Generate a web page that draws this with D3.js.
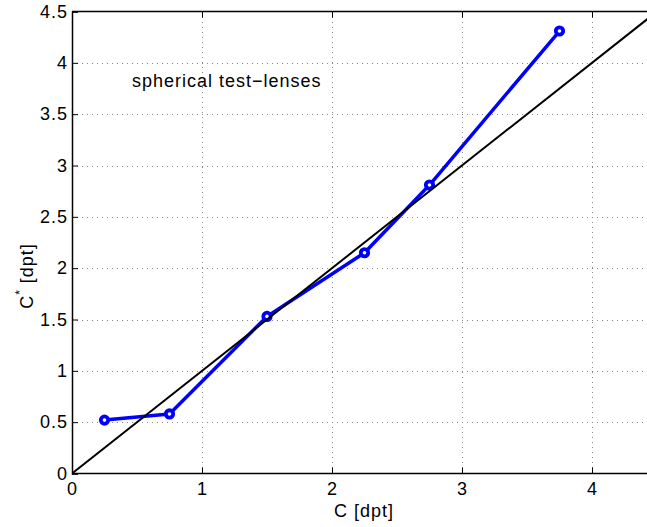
<!DOCTYPE html>
<html>
<head>
<meta charset="utf-8">
<script src="https://cdn.jsdelivr.net/npm/d3@7"></script>
<style>
  html, body { margin: 0; padding: 0; background: #fff; }
  svg { display: block; }
  text { font-family: "Liberation Sans", Arial, Helvetica, sans-serif; fill: #000; }
</style>
</head>
<body>
<script>
// Measured vs. nominal power of spherical test lenses
const lensPower = [0.25, 0.75, 1.5, 2.25, 2.75, 3.75];      // C [dpt]
const measuredPower = [0.52, 0.58, 1.53, 2.15, 2.81, 4.31]; // C* [dpt]
const xTicks = [0, 1, 2, 3, 4];
const yTicks = [0, 0.5, 1, 1.5, 2, 2.5, 3, 3.5, 4, 4.5];
const identityLine = [0, 4.5];

const W = 647, H = 527;
const svg = d3.select("body").append("svg").attr("width", W).attr("height", H);

const x = d3.scaleLinear().domain([0, 4.5]).range([72, 657]);
const y = d3.scaleLinear().domain([0, 4.5]).range([473.5, 11.5]);

svg.append("defs").append("clipPath").attr("id", "plotclip")
  .append("rect").attr("x", 72).attr("y", 11.5).attr("width", 585).attr("height", 462);

// dotted grid
const grid = svg.append("g").attr("stroke", "#888").attr("stroke-width", 1)
  .attr("stroke-dasharray", "1,4").attr("shape-rendering", "crispEdges");
grid.selectAll(".gx").data(xTicks.filter(d => d > 0)).join("line")
  .attr("x1", d => Math.round(x(d)) + 0.5).attr("x2", d => Math.round(x(d)) + 0.5)
  .attr("y1", y(4.5)).attr("y2", y(0));
grid.selectAll(".gy").data(yTicks.filter(d => d > 0 && d < 4.5)).join("line")
  .attr("y1", d => Math.round(y(d)) + 0.5).attr("y2", d => Math.round(y(d)) + 0.5)
  .attr("x1", x(0)).attr("x2", W);

// axes
const xAxis = d3.axisBottom(x).tickValues(xTicks).tickSize(-6).tickPadding(9).tickFormat(d3.format("~g"));
const yAxis = d3.axisLeft(y).tickValues(yTicks).tickSize(-6).tickPadding(5).tickFormat(d3.format("~g"));
const xTop = d3.axisTop(x).tickValues(xTicks).tickSize(-6).tickFormat("");

const gx = svg.append("g").attr("transform", `translate(0,${y(0)})`).call(xAxis);
const gy = svg.append("g").attr("transform", `translate(${x(0)},0)`).call(yAxis);
const gt = svg.append("g").attr("transform", `translate(0,${y(4.5)})`).call(xTop);
[gx, gy, gt].forEach(g => {
  g.select(".domain").attr("stroke", "#000").attr("stroke-width", 1.5);
  g.selectAll(".tick line").attr("stroke", "#000").attr("stroke-width", 1);
  g.selectAll(".tick text").style("font-size", "18px").style("letter-spacing", "1px")
    .style("font-family", "'Liberation Sans', Arial, sans-serif").attr("fill", "#000");
});
gy.selectAll(".tick text").attr("dx", "1px");
gx.select(".domain").attr("d", `M${x(0)},0H${W}`);
gt.select(".domain").attr("d", `M${x(0)},0H${W}`);

const plot = svg.append("g").attr("clip-path", "url(#plotclip)");

// measured data
const line = d3.line().x((d, i) => x(lensPower[i])).y(d => y(d));
plot.append("path").datum(measuredPower).attr("d", line)
  .attr("fill", "none").attr("stroke", "#0000ff").attr("stroke-width", 3.5)
  .attr("stroke-linejoin", "round");
plot.selectAll(".pt").data(measuredPower).join("circle")
  .attr("cx", (d, i) => x(lensPower[i])).attr("cy", d => y(d)).attr("r", 3.7)
  .attr("fill", "#fff").attr("stroke", "#0000ff").attr("stroke-width", 3.8);

// identity reference C* = C
plot.append("line")
  .attr("x1", x(identityLine[0])).attr("y1", y(identityLine[0]))
  .attr("x2", x(identityLine[1])).attr("y2", y(identityLine[1]))
  .attr("stroke", "#000").attr("stroke-width", 2);

// annotation and labels
svg.append("text").attr("x", 132).attr("y", 87).style("font-size", "18px")
  .style("letter-spacing", "1px").text("spherical test\u2212lenses");

svg.append("text").attr("x", 364).attr("y", 517).attr("text-anchor", "middle")
  .style("font-size", "18px").style("letter-spacing", "1px").text("C [dpt]");

const yl = svg.append("text").attr("transform", "translate(33,276) rotate(-90)")
  .attr("text-anchor", "middle").style("font-size", "18px").style("letter-spacing", "1px");
yl.append("tspan").text("C");
yl.append("tspan").attr("dy", -9).style("font-size", "12px").text("*");
yl.append("tspan").attr("dy", 9).text(" [dpt]");
</script>
</body>
</html>
